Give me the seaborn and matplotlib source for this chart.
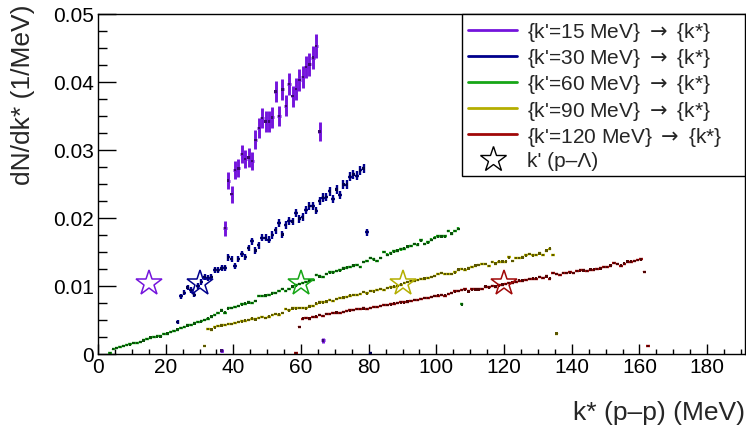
import numpy as np
import pandas as pd
import matplotlib
matplotlib.use("Agg")
import matplotlib.pyplot as plt
from matplotlib.lines import Line2D
from matplotlib.ticker import MultipleLocator
import seaborn as sns

# ── data: dN/dk* per 1 MeV bin, first bin starts at *_start ─────────────────
k15_start = 36
k15_vals = [0.0005, 0.0185, 0.0255, 0.0235, 0.0271, 0.0273, 0.0294, 0.0287,
            0.0289, 0.0284, 0.0315, 0.0332, 0.0347, 0.0342, 0.0342, 0.0348,
            0.0386, 0.0350, 0.0389, 0.0365, 0.0397, 0.0379, 0.0390, 0.0403,
            0.0407, 0.0422, 0.0426, 0.0436, 0.0453, 0.0327, 0.0020]

k30_start = 23
k30_vals = [0.0047, 0.0085, 0.0090, 0.0098, 0.0094, 0.0087, 0.0100, 0.0106,
            0.0113, 0.0112, 0.0113, 0.0124, 0.0123, 0.0126, 0.0127, 0.0142,
            0.0140, 0.0129, 0.0140, 0.0147, 0.0143, 0.0156, 0.0166, 0.0152,
            0.0160, 0.0171, 0.0171, 0.0168, 0.0175, 0.0182, 0.0193, 0.0176,
            0.0190, 0.0196, 0.0195, 0.0207, 0.0199, 0.0201, 0.0212, 0.0218,
            0.0217, 0.0211, 0.0225, 0.0230, 0.0231, 0.0239, 0.0228, 0.0242,
            0.0234, 0.0249, 0.0249, 0.0261, 0.0264, 0.0262, 0.0270, 0.0273,
            0.0179, 0.0001]

k60_start = 3
k60_vals = [0.0001, 0.0007, 0.0009, 0.0010, 0.0012, 0.0013, 0.0014, 0.0016,
            0.0016, 0.0018, 0.0020, 0.0022, 0.0024, 0.0025, 0.0026, 0.0026,
            0.0029, 0.0030, 0.0032, 0.0034, 0.0036, 0.0038, 0.0040, 0.0042,
            0.0043, 0.0045, 0.0047, 0.0048, 0.0050, 0.0052, 0.0055, 0.0057,
            0.0060, 0.0064, 0.0061, 0.0067, 0.0068, 0.0069, 0.0071, 0.0073,
            0.0074, 0.0076, 0.0075, 0.0078, 0.0085, 0.0085, 0.0086, 0.0087,
            0.0089, 0.0090, 0.0093, 0.0096, 0.0093, 0.0096, 0.0099, 0.0101,
            0.0103, 0.0104, 0.0106, 0.0108, 0.0109, 0.0116, 0.0114, 0.0113,
            0.0118, 0.0120, 0.0120, 0.0122, 0.0123, 0.0126, 0.0127, 0.0128,
            0.0130, 0.0131, 0.0128, 0.0135, 0.0137, 0.0141, 0.0139, 0.0137,
            0.0141, 0.0150, 0.0146, 0.0148, 0.0151, 0.0152, 0.0154, 0.0155,
            0.0158, 0.0159, 0.0162, 0.0161, 0.0167, 0.0162, 0.0164, 0.0168,
            0.0171, 0.0173, 0.0173, 0.0173, 0.0181, 0.0177, 0.0181, 0.0184,
            0.0073]

k90_start = 31
k90_vals = [0.0012, 0.0037, 0.0036, 0.0039, 0.0041, 0.0042, 0.0043, 0.0044,
            0.0044, 0.0046, 0.0047, 0.0048, 0.0049, 0.0050, 0.0052, 0.0051,
            0.0053, 0.0054, 0.0053, 0.0055, 0.0057, 0.0059, 0.0058, 0.0060,
            0.0066, 0.0064, 0.0067, 0.0067, 0.0068, 0.0068, 0.0067, 0.0070,
            0.0071, 0.0074, 0.0076, 0.0076, 0.0077, 0.0079, 0.0078, 0.0081,
            0.0082, 0.0083, 0.0084, 0.0086, 0.0087, 0.0087, 0.0088, 0.0091,
            0.0089, 0.0093, 0.0092, 0.0094, 0.0096, 0.0094, 0.0097, 0.0098,
            0.0099, 0.0100, 0.0102, 0.0104, 0.0106, 0.0107, 0.0107, 0.0109,
            0.0110, 0.0111, 0.0112, 0.0113, 0.0115, 0.0118, 0.0119, 0.0118,
            0.0118, 0.0118, 0.0120, 0.0124, 0.0125, 0.0124, 0.0126, 0.0128,
            0.0130, 0.0131, 0.0132, 0.0132, 0.0129, 0.0135, 0.0133, 0.0136,
            0.0136, 0.0136, 0.0142, 0.0137, 0.0141, 0.0141, 0.0142, 0.0145,
            0.0147, 0.0145, 0.0146, 0.0148, 0.0146, 0.0152, 0.0155, 0.0146,
            0.0030]

k120_start = 58
k120_vals = [0.0001, 0.0040, 0.0052, 0.0053, 0.0052, 0.0054, 0.0055, 0.0057,
             0.0056, 0.0059, 0.0059, 0.0060, 0.0061, 0.0060, 0.0062, 0.0063,
             0.0064, 0.0065, 0.0066, 0.0066, 0.0067, 0.0066, 0.0068, 0.0069,
             0.0069, 0.0071, 0.0072, 0.0072, 0.0073, 0.0074, 0.0075, 0.0076,
             0.0076, 0.0077, 0.0078, 0.0079, 0.0079, 0.0081, 0.0082, 0.0082,
             0.0084, 0.0085, 0.0086, 0.0087, 0.0086, 0.0088, 0.0090, 0.0092,
             0.0093, 0.0094, 0.0095, 0.0092, 0.0095, 0.0095, 0.0095, 0.0096,
             0.0099, 0.0098, 0.0100, 0.0099, 0.0101, 0.0102, 0.0103, 0.0104,
             0.0105, 0.0106, 0.0108, 0.0108, 0.0109, 0.0110, 0.0111, 0.0111,
             0.0113, 0.0112, 0.0114, 0.0111, 0.0119, 0.0118, 0.0116, 0.0119,
             0.0119, 0.0120, 0.0119, 0.0122, 0.0123, 0.0123, 0.0122, 0.0124,
             0.0124, 0.0125, 0.0126, 0.0128, 0.0128, 0.0130, 0.0134, 0.0132,
             0.0130, 0.0133, 0.0136, 0.0136, 0.0137, 0.0138, 0.0139, 0.0121,
             0.0012]

# relative statistical scale (err = scale * sqrt(value))
err_scales = [0.0080, 0.0040, 0.0015, 0.0011, 0.0010]
bar_widths = [2.1, 1.7, 1.7, 1.7, 1.7]

labels = ["{k'=15 MeV} $\\rightarrow$ {k*}", "{k'=30 MeV} $\\rightarrow$ {k*}",
          "{k'=60 MeV} $\\rightarrow$ {k*}", "{k'=90 MeV} $\\rightarrow$ {k*}",
          "{k'=120 MeV} $\\rightarrow$ {k*}"]
colors = ["#7414dc", "#00008c", "#16a616", "#b4ae00", "#a00808"]
dark = ["#3a0a6e", "#000050", "#0a500a", "#5a5600", "#500404"]

star_k = [15, 30, 60, 90, 120]
star_y = [0.0105, 0.0105, 0.0105, 0.0105, 0.0105]
star_label = "k' (p\u2013\u039b)"

x_title = "k* (p\u2013p) (MeV)"
y_title = "dN/dk* (1/MeV)"

# ── build long table ─────────────────────────────────────────────────────────
starts = [k15_start, k30_start, k60_start, k90_start, k120_start]
values = [k15_vals, k30_vals, k60_vals, k90_vals, k120_vals]
frames = []
for lab, st, vals, sc in zip(labels, starts, values, err_scales):
    v = np.array(vals)
    frames.append(pd.DataFrame({
        "kstar": st + 0.5 + np.arange(len(v)),
        "dndk": v,
        "err": sc * np.sqrt(v),
        "series": lab,
    }))
df = pd.concat(frames, ignore_index=True)

# ── plot ─────────────────────────────────────────────────────────────────────
sns.set_style("ticks")
plt.rcParams["font.family"] = ["Liberation Sans", "DejaVu Sans"]
plt.rcParams["mathtext.fontset"] = "dejavusans"
TICK_FS = 15
TITLE_FS = 19
LEG_FS = 15

fig = plt.figure(figsize=(7.46, 4.27), dpi=100)
ax = fig.add_axes([98 / 746, 72 / 427, 647 / 746, 340 / 427])

for lab, col, bw in zip(labels, colors, bar_widths):
    d = df[df["series"] == lab]
    ax.errorbar(d["kstar"], d["dndk"], xerr=0.5, yerr=d["err"], fmt="none",
                ecolor=col, elinewidth=bw, capsize=0, zorder=2)

sns.scatterplot(data=df, x="kstar", y="dndk", hue="series",
                palette=dict(zip(labels, dark)), marker="s", s=3,
                linewidth=0, legend=False, ax=ax, zorder=3)

for k, yv, col in zip(star_k, star_y, colors):
    ax.plot([k], [yv], marker="*", ms=19, mfc="none", mec=col, mew=1.1,
            linestyle="none", zorder=4)

ax.set_xlim(0, 191.2)
ax.set_ylim(0, 0.05)
ax.xaxis.set_major_locator(MultipleLocator(20))
ax.xaxis.set_minor_locator(MultipleLocator(5))
ax.yaxis.set_minor_locator(MultipleLocator(0.0025))
ax.set_yticks([0, 0.01, 0.02, 0.03, 0.04, 0.05])
ax.set_yticklabels(["0", "0.01", "0.02", "0.03", "0.04", "0.05"])
ax.tick_params(axis="both", which="both", direction="in", colors="black",
               labelsize=TICK_FS, width=1)
ax.tick_params(axis="x", which="major", length=7.5, pad=2)
ax.tick_params(axis="x", which="minor", length=3.8)
ax.tick_params(axis="y", which="major", length=13, pad=3)
ax.tick_params(axis="y", which="minor", length=6.5)
for sp in ax.spines.values():
    sp.set_visible(True)
    sp.set_color("black")
    sp.set_linewidth(1)

ax.set_xlabel(x_title, fontsize=TITLE_FS, loc="right")
ax.xaxis.set_label_coords(1.0, -0.135)
ax.set_ylabel(y_title, fontsize=TITLE_FS, loc="top")
ax.yaxis.set_label_coords(-0.098, 1.03)

handles = [Line2D([0], [0], color=c, lw=2) for c in colors]
handles.append(Line2D([0], [0], marker="*", ms=19, mfc="none", mec="black",
                      mew=1.0, linestyle="none"))
leg_x0 = (462 - 98) / 647
leg_y0 = (355 - 174) / 340
leg = ax.legend(handles, labels + [star_label], loc="upper right",
                bbox_to_anchor=(leg_x0, leg_y0, 1 - leg_x0, 1 - leg_y0),
                mode="expand", fontsize=LEG_FS, frameon=True,
                fancybox=False, edgecolor="black", framealpha=1,
                borderaxespad=0, handlelength=2.35, handletextpad=0.48,
                labelspacing=0.15, borderpad=0.3)
leg.get_frame().set_linewidth(1)

fig.savefig("out.png", dpi=100)
